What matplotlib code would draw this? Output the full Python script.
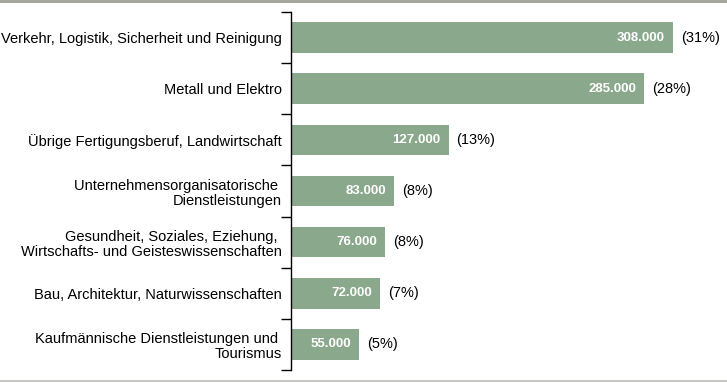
import matplotlib.pyplot as plt
from matplotlib.lines import Line2D

categories = [
    "Verkehr, Logistik, Sicherheit und Reinigung",
    "Metall und Elektro",
    "Übrige Fertigungsberuf, Landwirtschaft",
    "Unternehmensorganisatorische \nDienstleistungen",
    "Gesundheit, Soziales, Eziehung, \nWirtschafts- und Geisteswissenschaften",
    "Bau, Architektur, Naturwissenschaften",
    "Kaufmännische Dienstleistungen und \nTourismus",
]
values = [308000, 285000, 127000, 83000, 76000, 72000, 55000]
value_labels = ["308.000", "285.000", "127.000", "83.000", "76.000", "72.000", "55.000"]
shares = ["(31%)", "(28%)", "(13%)", "(8%)", "(8%)", "(7%)", "(5%)"]

plt.rcParams['font.family'] = ['Liberation Sans', 'DejaVu Sans']

fig = plt.figure(figsize=(7.27, 3.83), dpi=100)
ax = fig.add_axes([291 / 727, 13 / 383, 436 / 727, 358 / 383])

y = list(range(len(values)))
ax.barh(y, values, height=0.6, color="#8aa88c")
ax.set_ylim(len(values) - 0.5, -0.5)
ax.set_xlim(0, 308000 * 436 / 382)

for i, (v, lab, sh) in enumerate(zip(values, value_labels, shares)):
    ax.text(v - 6500, i, lab, ha="right", va="center", color="white",
            fontsize=9.5, fontweight="bold")
    ax.text(v + 6500, i, sh, ha="left", va="center", color="black", fontsize=10.5)

ax.set_yticks(y)
ax.set_yticklabels(categories, fontsize=10.5, linespacing=1.1)
ax.tick_params(axis="y", length=0, pad=6.5)
ax.set_yticks([i - 0.5 for i in range(len(values) + 1)], minor=True)
ax.tick_params(axis="y", which="minor", length=7, width=1, direction="out")
ax.set_xticks([])
for s in ["top", "right", "bottom"]:
    ax.spines[s].set_visible(False)
ax.spines["left"].set_linewidth(1)

fig.add_artist(Line2D([0, 1], [1 - 1 / 383, 1 - 1 / 383], color="#a0a098", lw=2))
fig.add_artist(Line2D([0, 1], [2 / 383, 2 / 383], color="#c8c8c4", lw=1.5))

fig.savefig("out.png", dpi=100)
